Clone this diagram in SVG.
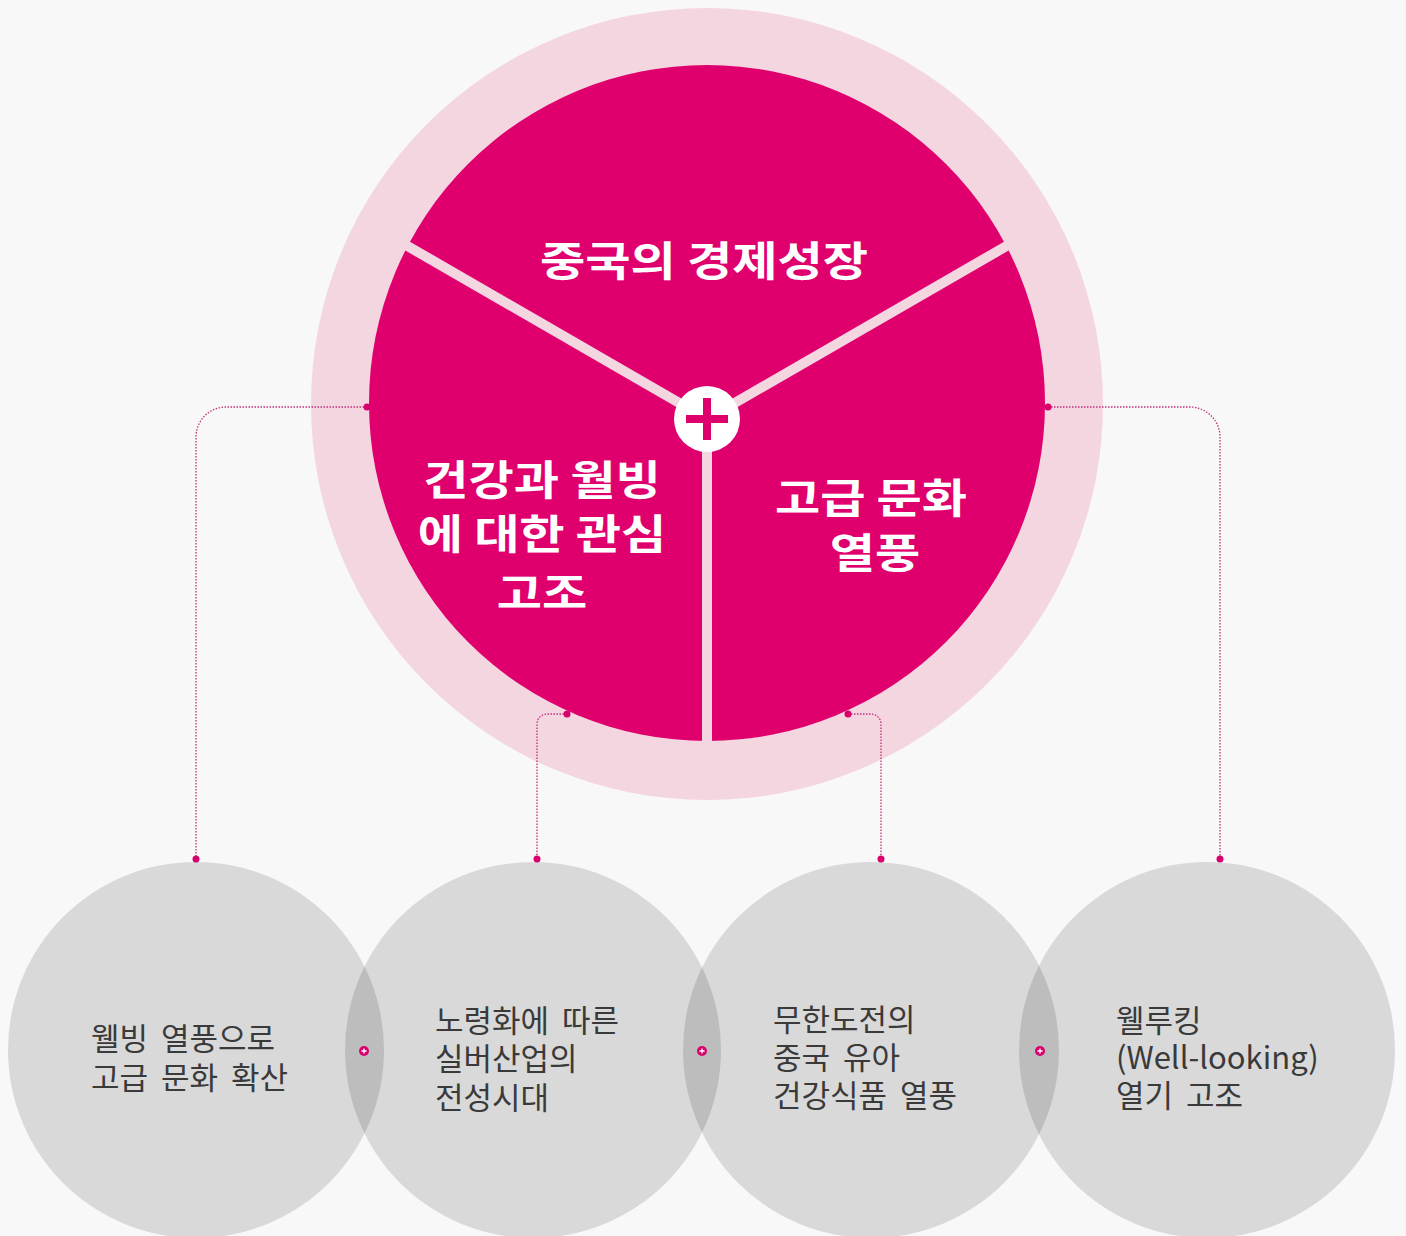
<svg xmlns="http://www.w3.org/2000/svg" width="1406" height="1236" viewBox="0 0 1406 1236">
  <style>
    .pie { font-family: "Noto Sans CJK KR", "Noto Sans", sans-serif; font-weight: 700; font-size: 41px; fill: #ffffff; text-anchor: middle; }
    .lbl { font-family: "Noto Sans CJK KR", "Noto Sans", sans-serif; font-weight: 400; font-size: 31px; fill: #3a3a3a; word-spacing: 6px; }
    .bub { fill: #000000; fill-opacity: 0.125; }
    .conn { fill: none; stroke: #c0307a; stroke-width: 1.3; stroke-dasharray: 1.5 1.5; }
    .dot { fill: #d8006c; }
    .div { stroke: #f4d6e0; stroke-width: 10; }
  </style>
  <defs>
    <g id="mini">
      <circle r="5" fill="#d8006c"/>
      <path d="M-2.6,0 H2.6 M0,-2.6 V2.6" stroke="#ffffff" stroke-width="1.3"/>
    </g>
  </defs>
  <rect width="1406" height="1236" fill="#f8f8f8"/>

  <g id="center-pie">
    <circle cx="707" cy="404" r="396" fill="#f4d6e0"/>
    <circle cx="707" cy="403" r="338" fill="#df006e"/>
    <line class="div" x1="707" y1="419" x2="404" y2="244"/>
    <line class="div" x1="707" y1="419" x2="1010" y2="244"/>
    <line class="div" x1="707" y1="419" x2="707" y2="745"/>
  </g>

  <g id="seg-economy">
    <text class="pie" transform="translate(704,276) scale(1.2,1)">중국의 경제성장</text>
  </g>
  <g id="seg-health">
    <text class="pie" transform="translate(542,495) scale(1.2,1)">건강과 월빙</text>
    <text class="pie" transform="translate(542,549) scale(1.2,1)">에 대한 관심</text>
    <text class="pie" transform="translate(542,608) scale(1.2,1)">고조</text>
  </g>
  <g id="seg-culture">
    <text class="pie" transform="translate(871,513) scale(1.2,1)">고급 문화</text>
    <text class="pie" transform="translate(875,568) scale(1.2,1)">열풍</text>
  </g>

  <g id="center-plus">
    <circle cx="707" cy="419" r="33" fill="#ffffff"/>
    <path d="M686,419 H728 M707,398 V440" stroke="#df006e" stroke-width="8"/>
  </g>

  <g id="connectors">
    <path class="conn" d="M367,407 H226 A30,30 0 0 0 196,437 V859"/>
    <path class="conn" d="M567,714 H547 A10,10 0 0 0 537,724 V859"/>
    <path class="conn" d="M848,714 H871 A10,10 0 0 1 881,724 V859"/>
    <path class="conn" d="M1048,407 H1190 A30,30 0 0 1 1220,437 V859"/>
    <circle class="dot" cx="367" cy="407" r="3.5"/>
    <circle class="dot" cx="1048" cy="407" r="3.5"/>
    <circle class="dot" cx="567" cy="714" r="3.5"/>
    <circle class="dot" cx="848" cy="714" r="3.5"/>
    <circle class="dot" cx="196" cy="859" r="3.5"/>
    <circle class="dot" cx="537" cy="859" r="3.5"/>
    <circle class="dot" cx="881" cy="859" r="3.5"/>
    <circle class="dot" cx="1220" cy="859" r="3.5"/>
  </g>

  <g id="node-1">
    <circle class="bub" cx="196" cy="1050" r="188"/>
    <text class="lbl" x="91" y="1050">웰빙 열풍으로</text>
    <text class="lbl" x="91" y="1089">고급 문화 확산</text>
  </g>
  <g id="node-2">
    <circle class="bub" cx="533" cy="1050" r="188"/>
    <text class="lbl" x="435" y="1032">노령화에 따른</text>
    <text class="lbl" x="435" y="1070">실버산업의</text>
    <text class="lbl" x="435" y="1109">전성시대</text>
  </g>
  <g id="node-3">
    <circle class="bub" cx="871" cy="1050" r="188"/>
    <text class="lbl" x="773" y="1031">무한도전의</text>
    <text class="lbl" x="773" y="1069">중국 유아</text>
    <text class="lbl" x="773" y="1107">건강식품 열풍</text>
  </g>
  <g id="node-4">
    <circle class="bub" cx="1207" cy="1050" r="188"/>
    <text class="lbl" x="1116" y="1032">웰루킹</text>
    <text class="lbl" x="1116" y="1069">(Well-looking)</text>
    <text class="lbl" x="1116" y="1107">열기 고조</text>
  </g>

  <g id="overlap-markers">
    <use href="#mini" x="364" y="1051"/>
    <use href="#mini" x="702" y="1051"/>
    <use href="#mini" x="1040" y="1051"/>
  </g>
</svg>
